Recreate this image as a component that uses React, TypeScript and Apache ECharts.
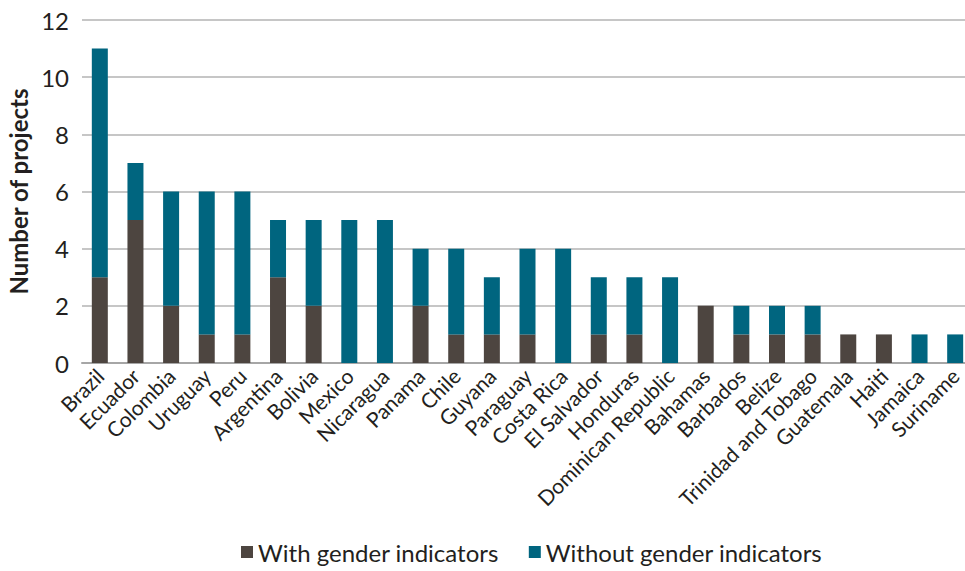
import React, { useEffect, useRef } from "react";
import * as echarts from "echarts";

const categories = [
  "Brazil", "Ecuador", "Colombia", "Uruguay", "Peru", "Argentina", "Bolivia",
  "Mexico", "Nicaragua", "Panama", "Chile", "Guyana", "Paraguay", "Costa Rica",
  "El Salvador", "Honduras", "Dominican Republic", "Bahamas", "Barbados", "Belize",
  "Trinidad and Tobago", "Guatemala", "Haiti", "Jamaica", "Suriname",
];
const withGender = [3, 5, 2, 1, 1, 3, 2, 0, 0, 2, 1, 1, 1, 0, 1, 1, 0, 2, 1, 1, 1, 1, 1, 0, 0];
const withoutGender = [8, 2, 4, 5, 5, 2, 3, 5, 5, 2, 3, 2, 3, 4, 2, 2, 3, 0, 1, 1, 1, 0, 0, 1, 1];
const yTicks = [0, 2, 4, 6, 8, 10, 12];

const FONT = "Lato";

export default function App() {
  const ref = useRef<HTMLDivElement>(null);
  useEffect(() => {
    if (!ref.current) return;
    const chart = echarts.init(ref.current, undefined, { renderer: "svg" });
    chart.setOption({
      animation: false,
      textStyle: { fontFamily: FONT },
      grid: {
        left: 82,
        top: 20,
        width: 891,
        bottom: 208,
        containLabel: false,
        outerBoundsMode: "none",
      },
      legend: {
        bottom: 2,
        left: 236,
        itemWidth: 12,
        itemHeight: 12,
        itemGap: 30,
        icon: "rect",
        textStyle: { fontFamily: FONT, fontSize: 24, color: "#231f20" },
        data: ["With gender indicators", "Without gender indicators"],
      },
      xAxis: {
        type: "category",
        data: categories,
        axisTick: { show: false },
        axisLine: { lineStyle: { color: "#a6a6a6", width: 2 } },
        axisLabel: {
          rotate: 45,
          interval: 0,
          fontFamily: FONT,
          fontSize: 21,
          color: "#231f20",
          margin: 9,
        },
      },
      yAxis: {
        type: "value",
        min: yTicks[0],
        max: yTicks[yTicks.length - 1],
        interval: 2,
        name: "Number of projects",
        nameLocation: "middle",
        nameGap: 49,
        nameTextStyle: { fontFamily: FONT, fontSize: 24, fontWeight: "bold", color: "#231f20" },
        axisLabel: { fontFamily: FONT, fontSize: 24, color: "#231f20", margin: 13 },
        splitLine: { lineStyle: { color: "#b3b3b3", width: 1.5 } },
        axisLine: { show: false },
        axisTick: { show: false },
      },
      series: [
        {
          name: "With gender indicators",
          type: "bar",
          stack: "total",
          barWidth: 16,
          data: withGender,
          itemStyle: { color: "#4d4540" },
        },
        {
          name: "Without gender indicators",
          type: "bar",
          stack: "total",
          barWidth: 16,
          data: withoutGender,
          itemStyle: { color: "#00657f" },
        },
      ],
    });
    return () => chart.dispose();
  }, []);
  return <div ref={ref} style={{ width: 965, height: 571, position: "absolute", left: 0, top: 0 }} />;
}
